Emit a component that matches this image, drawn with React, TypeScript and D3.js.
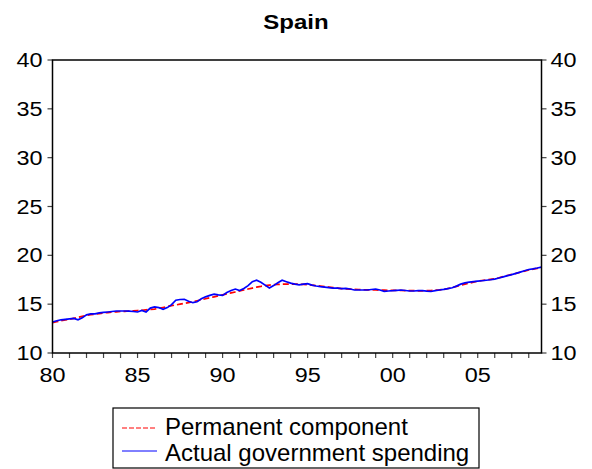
import React from "react";
import * as d3 from "d3";

const title = "Spain";
const startYear = 1980;
const yTicks = [10, 15, 20, 25, 30, 35, 40];
const xMajor = [1980, 1985, 1990, 1995, 2000, 2005];
const xMinor = d3.range(1980, 2009);
const xLabel = (y: number) => String(y % 100).padStart(2, "0");

// Quarterly, 1980Q1 .. 2008Q4
const actual = [
  13.17, 13.3, 13.4, 13.45,
  13.5, 13.55, 13.4, 13.6,
  13.9, 14.0, 14.0, 14.1,
  14.15, 14.2, 14.25, 14.3,
  14.3, 14.3, 14.28, 14.25,
  14.2, 14.35, 14.2, 14.6,
  14.72, 14.65, 14.47, 14.65,
  14.95, 15.4, 15.48, 15.5,
  15.3, 15.15, 15.25, 15.55,
  15.75, 15.9, 16.02, 15.95,
  15.9, 16.2, 16.4, 16.55,
  16.4, 16.6, 16.9, 17.3,
  17.45, 17.25, 16.95, 16.65,
  16.9, 17.2, 17.45, 17.3,
  17.15, 17.05, 16.98, 17.05,
  17.1, 16.95, 16.86, 16.8,
  16.75, 16.7, 16.65, 16.65,
  16.6, 16.62, 16.55, 16.45,
  16.45, 16.45, 16.45, 16.5,
  16.55, 16.45, 16.32, 16.35,
  16.38, 16.42, 16.45, 16.4,
  16.35, 16.35, 16.38, 16.38,
  16.33, 16.3, 16.38, 16.45,
  16.52, 16.6, 16.68, 16.85,
  17.05, 17.18, 17.25, 17.3,
  17.35, 17.4, 17.45, 17.5,
  17.57, 17.68, 17.8, 17.92,
  18.03, 18.15, 18.28, 18.42,
  18.55, 18.62, 18.7, 18.8,
];

const permanent = [
  13.1, 13.2, 13.3, 13.38,
  13.45, 13.55, 13.65, 13.75,
  13.85, 13.92, 13.98, 14.04,
  14.1, 14.14, 14.18, 14.22,
  14.25, 14.27, 14.3, 14.32,
  14.35, 14.38, 14.42, 14.46,
  14.5, 14.58, 14.66, 14.75,
  14.85, 14.92, 15.0, 15.08,
  15.15, 15.25, 15.35, 15.45,
  15.55, 15.65, 15.75, 15.85,
  15.95, 16.05, 16.15, 16.25,
  16.35, 16.45, 16.55, 16.65,
  16.75, 16.82, 16.9, 16.95,
  17.0, 17.02, 17.05, 17.06,
  17.05, 17.05, 17.04, 17.02,
  17.0, 16.95, 16.9, 16.85,
  16.8, 16.75, 16.7, 16.65,
  16.6, 16.57, 16.54, 16.52,
  16.5, 16.48, 16.47, 16.46,
  16.45, 16.44, 16.43, 16.42,
  16.42, 16.41, 16.4, 16.39,
  16.38, 16.38, 16.37, 16.37,
  16.38, 16.4, 16.43, 16.46,
  16.5, 16.6, 16.7, 16.82,
  16.95, 17.05, 17.15, 17.25,
  17.35, 17.42, 17.48, 17.54,
  17.6, 17.7, 17.82, 17.93,
  18.05, 18.15, 18.27, 18.38,
  18.5, 18.58, 18.66, 18.75,
];

const legendLabels = ["Permanent component", "Actual government spending"];

const W = 592, H = 469;
const L = 52.5, R = 541.5, T = 60, B = 353;
const FONT = "Arial, 'Liberation Sans', Helvetica, sans-serif";
const SX = 1.2;

function SText(props: { x: number; y: number; anchor: string; size: number; bold?: boolean; children: React.ReactNode }) {
  return (
    <text
      transform={`translate(${props.x},${props.y}) scale(${SX},1)`}
      textAnchor={props.anchor}
      fontSize={props.size}
      fontWeight={props.bold ? "bold" : "normal"}
    >
      {props.children}
    </text>
  );
}

export default function App() {
  const x = d3.scaleLinear().domain([startYear, startYear + (actual.length - 1) / 4]).range([L, R]);
  const y = d3.scaleLinear().domain([10, 40]).range([B, T]);
  const line = d3.line<number>().x((_, i) => x(startYear + i / 4)).y((d) => y(d));

  return (
    <div style={{ position: "absolute", left: 0, top: 0 }}>
      <svg width={W} height={H} style={{ display: "block", background: "#fff" }} fontFamily={FONT}>
        <rect width={W} height={H} fill="#fff" />
        <SText x={296} y={29} anchor="middle" size={20} bold>{title}</SText>

        {yTicks.map((t) => (
          <g key={t}>
            <line x1={L - 5} x2={L} y1={y(t)} y2={y(t)} stroke="#444" strokeWidth={1.2} />
            <line x1={R} x2={R + 5} y1={y(t)} y2={y(t)} stroke="#444" strokeWidth={1.2} />
            <SText x={L - 10} y={y(t) + 7} anchor="end" size={19.5}>{t}</SText>
            <SText x={R + 9} y={y(t) + 7} anchor="start" size={19.5}>{t}</SText>
          </g>
        ))}
        {xMinor.map((t) => (
          <line key={t} x1={x(t)} x2={x(t)} y1={B} y2={B + 5} stroke="#444" strokeWidth={1.2} />
        ))}
        {xMajor.map((t) => (
          <SText key={t} x={x(t)} y={382} anchor="middle" size={19.5}>{xLabel(t)}</SText>
        ))}

        <path d={line(permanent) || ""} fill="none" stroke="#ff0000" strokeWidth={1.7} strokeDasharray="6,3" />
        <path d={line(actual) || ""} fill="none" stroke="#0000ff" strokeWidth={1.7} />

        <rect x={L} y={T} width={R - L} height={B - T} fill="none" stroke="#000" strokeWidth={1.5} />

        <rect x={113} y={408} width={366} height={60} fill="none" stroke="#000" strokeWidth={1.2} />
        <line x1={122} x2={157} y1={428} y2={428} stroke="#ff0000" strokeWidth={1} strokeDasharray="5,2" />
        <line x1={122} x2={157} y1={451} y2={451} stroke="#0000ff" strokeWidth={1} />
        <text x={165} y={435} fontSize={24}>{legendLabels[0]}</text>
        <text x={165} y={461} fontSize={24}>{legendLabels[1]}</text>
      </svg>
    </div>
  );
}
